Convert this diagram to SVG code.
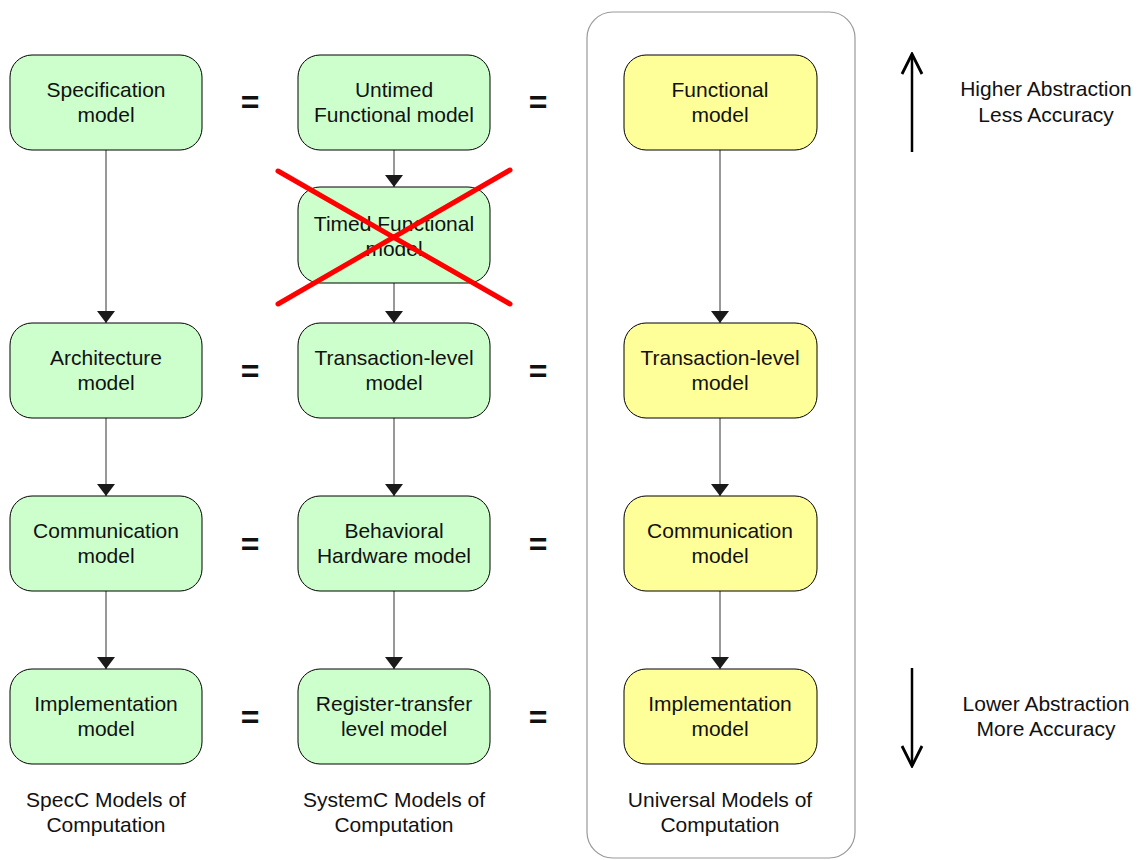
<svg xmlns="http://www.w3.org/2000/svg" width="1138" height="860" viewBox="0 0 1138 860">
  <defs>
    <marker id="arr" viewBox="0 0 12 18" refX="12" refY="9" markerWidth="12" markerHeight="18" markerUnits="userSpaceOnUse" orient="auto">
      <path d="M0,0 L12,9 L0,18 z" fill="#1a1a1a"/>
    </marker>
    <marker id="open" viewBox="0 0 12 12" refX="11" refY="6" markerWidth="24" markerHeight="24" markerUnits="userSpaceOnUse" orient="auto">
      <path d="M1,1 L11,6 L1,11" fill="none" stroke="#000" stroke-width="1.4" stroke-linejoin="miter"/>
    </marker>
    <style>
      .g rect { fill: #ccffcc; stroke: #000; stroke-width: 1; }
      .y rect { fill: #ffff99; stroke: #000; stroke-width: 1; }
      text { font-family: "Liberation Sans", Arial, sans-serif; font-size: 21px; fill: #111; text-anchor: middle; }
      .eq { font-size: 32px; font-weight: bold; }
      .conn line { stroke: #333; stroke-width: 1; marker-end: url(#arr); }
    </style>
  </defs>
  <rect width="1138" height="860" fill="#fff"/>

  <!-- universal column frame -->
  <rect id="universal-frame" x="587" y="12" width="268" height="846" rx="26" fill="none" stroke="#999" stroke-width="1.2"/>

  <!-- connectors -->
  <g id="connectors" class="conn">
    <line x1="106" y1="150" x2="106" y2="323"/>
    <line x1="106" y1="418" x2="106" y2="496"/>
    <line x1="106" y1="591" x2="106" y2="669"/>
    <line x1="394" y1="150" x2="394" y2="187"/>
    <line x1="394" y1="283" x2="394" y2="323"/>
    <line x1="394" y1="418" x2="394" y2="496"/>
    <line x1="394" y1="591" x2="394" y2="669"/>
    <line x1="720" y1="150" x2="720" y2="323"/>
    <line x1="720" y1="418" x2="720" y2="496"/>
    <line x1="720" y1="591" x2="720" y2="669"/>
  </g>

  <!-- SpecC column -->
  <g id="spec" class="g"><rect x="10" y="55" width="192" height="95" rx="22"/><text x="106" y="97">Specification</text><text x="106" y="122">model</text></g>
  <g id="arch" class="g"><rect x="10" y="323" width="192" height="95" rx="22"/><text x="106" y="365">Architecture</text><text x="106" y="390">model</text></g>
  <g id="comm" class="g"><rect x="10" y="496" width="192" height="95" rx="22"/><text x="106" y="538">Communication</text><text x="106" y="563">model</text></g>
  <g id="impl" class="g"><rect x="10" y="669" width="192" height="95" rx="22"/><text x="106" y="711">Implementation</text><text x="106" y="736">model</text></g>

  <!-- SystemC column -->
  <g id="untimed" class="g"><rect x="298" y="55" width="192" height="95" rx="22"/><text x="394" y="97">Untimed</text><text x="394" y="122">Functional model</text></g>
  <g id="timed" class="g"><rect x="298" y="187" width="192" height="96" rx="22"/><text x="394" y="231">Timed Functional</text><text x="394" y="256">model</text></g>
  <g id="tlm" class="g"><rect x="298" y="323" width="192" height="95" rx="22"/><text x="394" y="365">Transaction-level</text><text x="394" y="390">model</text></g>
  <g id="bhw" class="g"><rect x="298" y="496" width="192" height="95" rx="22"/><text x="394" y="538">Behavioral</text><text x="394" y="563">Hardware model</text></g>
  <g id="rtl" class="g"><rect x="298" y="669" width="192" height="95" rx="22"/><text x="394" y="711">Register-transfer</text><text x="394" y="736">level model</text></g>

  <!-- Universal column -->
  <g id="ufunc" class="y"><rect x="624" y="55" width="193" height="95" rx="22"/><text x="720" y="97">Functional</text><text x="720" y="122">model</text></g>
  <g id="utlm" class="y"><rect x="624" y="323" width="193" height="95" rx="22"/><text x="720" y="365">Transaction-level</text><text x="720" y="390">model</text></g>
  <g id="ucomm" class="y"><rect x="624" y="496" width="193" height="95" rx="22"/><text x="720" y="538">Communication</text><text x="720" y="563">model</text></g>
  <g id="uimpl" class="y"><rect x="624" y="669" width="193" height="95" rx="22"/><text x="720" y="711">Implementation</text><text x="720" y="736">model</text></g>

  <!-- crossed-out timed model -->
  <g id="cross" stroke="#ff0000" stroke-width="5" stroke-linecap="round">
    <line x1="278" y1="171" x2="510" y2="304"/>
    <line x1="510" y1="170" x2="278" y2="304"/>
  </g>

  <!-- equivalence signs -->
  <g id="equals">
    <text class="eq" x="250" y="113">=</text>
    <text class="eq" x="538" y="113">=</text>
    <text class="eq" x="250" y="382">=</text>
    <text class="eq" x="538" y="382">=</text>
    <text class="eq" x="250" y="555">=</text>
    <text class="eq" x="538" y="555">=</text>
    <text class="eq" x="250" y="728">=</text>
    <text class="eq" x="538" y="728">=</text>
  </g>

  <!-- abstraction scale -->
  <g id="scale-up">
    <line x1="912" y1="152" x2="912" y2="54" stroke="#000" stroke-width="2.5" marker-end="url(#open)"/>
    <text x="1046" y="96">Higher Abstraction</text>
    <text x="1046" y="122">Less Accuracy</text>
  </g>
  <g id="scale-down">
    <line x1="912" y1="668" x2="912" y2="766" stroke="#000" stroke-width="2.5" marker-end="url(#open)"/>
    <text x="1046" y="711">Lower Abstraction</text>
    <text x="1046" y="736">More Accuracy</text>
  </g>

  <!-- column captions -->
  <g id="captions">
    <text x="106" y="807">SpecC Models of</text><text x="106" y="832">Computation</text>
    <text x="394" y="807">SystemC Models of</text><text x="394" y="832">Computation</text>
    <text x="720" y="807">Universal Models of</text><text x="720" y="832">Computation</text>
  </g>
</svg>
